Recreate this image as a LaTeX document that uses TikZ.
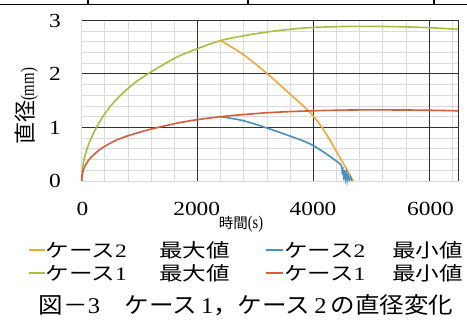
\documentclass[tikz,border=0pt]{standalone}
\usepackage{fontspec}
\setmainfont{Liberation Serif}
\newfontfamily\jp{Noto Sans CJK JP}
\newfontfamily\lat{Liberation Serif}
\definecolor{corange}{RGB}{242,166,58}
\definecolor{cblue}{RGB}{70,145,190}
\definecolor{cgreen}{RGB}{163,192,64}
\definecolor{cred}{RGB}{214,92,60}
\definecolor{cmajor}{RGB}{50,50,50}
\definecolor{cminor}{RGB}{218,218,218}
\tikzset{
  minorline/.style={draw=cminor, line width=0.8pt},
  majorline/.style={draw=cmajor, line width=0.9pt},
  curve/.style={line width=1.6pt, line join=round},
  ticklab/.style={inner sep=0pt, font=\rmfamily\fontsize{20}{20}\selectfont},
  legtext/.style={inner sep=0pt, anchor=west, font=\rmfamily\fontsize{19}{19}\selectfont},
  legdash/.style={line width=1.6pt},
}
\begin{document}
\begin{tikzpicture}[x=1pt,y=-1pt]
\useasboundingbox (0,0) rectangle (467,323);
\fill[white] (0,0) rectangle (467,323);
% table line at top
\draw[line width=1.2pt] (0,4.5) -- (467,4.5);
\draw[line width=1.2pt] (88,0) -- (88,4.5);
\draw[line width=1.2pt] (248,0) -- (248,4.5);
\draw[line width=1.2pt] (434,0) -- (434,4.5);
% plot area
\begin{scope}[shift={(81.7,181)}, x=0.0579pt, y=53.6pt]
  \foreach \t in {0,400,...,6400} \draw[minorline] (\t,0) -- (\t,3);
  \foreach \d in {0,0.2,0.4,0.6,0.8,1.2,1.4,1.6,1.8,2.2,2.4,2.6,2.8} \draw[minorline] (0,\d) -- (6500,\d);
  \foreach \t in {2000,4000,6000,6500} \draw[majorline] (\t,0) -- (\t,3);
  \foreach \d in {1,2,3} \draw[majorline] (0,\d) -- (6500,\d);
  % case 1 max (green)
  \draw[curve, cgreen] plot[smooth, tension=0.55] coordinates {(0,0) (10,0.198) (30,0.342) (60,0.484) (100,0.625) (160,0.79) (250,0.99) (360,1.19) (500,1.40) (700,1.63) (950,1.86) (1250,2.07) (1641,2.31) (2000,2.47) (2400,2.62) (2800,2.71) (3200,2.78) (3600,2.83) (4000,2.865) (4700,2.885) (5400,2.88) (6000,2.86) (6500,2.83)};
  % case 2 max (orange)
  \draw[curve, corange] plot[smooth, tension=0.5] coordinates {(2400,2.62) (2791,2.36) (3206,2.0) (3600,1.62) (3943,1.28) (4174,0.96) (4432,0.49) (4691,0.0)};
  % case 2 min (blue)
  \draw[curve, cblue] plot[smooth, tension=0.5] coordinates {(2400,1.20) (2791,1.125) (3223,0.98) (3772,0.77) (4000,0.66) (4231,0.5) (4450,0.33) (4490,0.28)};
  \draw[line width=1.3pt, cblue, line join=miter] (4490,0.28) -- (4500,0.12) -- (4510,0.26) -- (4525,0.02) -- (4540,0.2) -- (4555,0.03) -- (4570,0.16) -- (4585,0.0) -- (4600,0.12) -- (4620,0.02) -- (4640,0.08) -- (4660,0.0);
  % case 1 min (red)
  \draw[curve, cred] plot[smooth, tension=0.55] coordinates {(0,0) (10,0.12) (30,0.21) (60,0.285) (120,0.39) (200,0.48) (304,0.58) (450,0.68) (592,0.76) (760,0.83) (938,0.89) (1150,0.955) (1400,1.02) (1700,1.09) (2000,1.145) (2400,1.20) (2800,1.24) (3300,1.28) (4000,1.31) (4700,1.325) (5500,1.325) (6000,1.32) (6500,1.31)};
\end{scope}
% y tick labels
\node[ticklab] (y3) at (55,21) {\scalebox{1.17}[1]{3}};
\node[ticklab] (y2) at (55,74) {\scalebox{1.17}[1]{2}};
\node[ticklab] (y1) at (55,127.5) {\scalebox{1.17}[1]{1}};
\node[ticklab] (y0) at (55,180.5) {\scalebox{1.17}[1]{0}};
% x tick labels
\node[ticklab] (x0) at (82.5,208.5) {\scalebox{1.17}[1]{0}};
\node[ticklab] (x2) at (196.7,208.5) {\scalebox{1.17}[1]{2000}};
\node[ticklab] (x4) at (313,208.5) {\scalebox{1.17}[1]{4000}};
\node[ticklab] (x6) at (430.5,208.5) {\scalebox{1.17}[1]{6000}};
% axis titles
\node[inner sep=0pt] (xt) at (241,224) {{\jp\fontsize{14.5}{14.5}\selectfont 時間}{\lat\fontsize{18}{18}\selectfont\scalebox{0.8}[1]{(s)}}};
\node[inner sep=0pt, rotate=90] (yt) at (26.5,106.5) {{\jp\fontsize{22}{22}\selectfont 直径}{\lat\fontsize{19}{19}\selectfont\scalebox{0.78}[1]{(mm)}}};
% legend
\coordinate (d1a) at (29,250); \coordinate (d1b) at (45,250);
\draw[legdash, corange] (d1a) -- (d1b);
\node[legtext] (l1) at (45.5,250) {\scalebox{1.24}[1]{{\jp ケース}2}};
\node[legtext] (l1b) at (159,250) {\scalebox{1.24}[1]{\jp 最大値}};
\coordinate (d2a) at (266,250); \coordinate (d2b) at (283,250);
\draw[legdash, cblue] (d2a) -- (d2b);
\node[legtext] (l2) at (284,250) {\scalebox{1.24}[1]{{\jp ケース}2}};
\node[legtext] (l2b) at (392,250) {\scalebox{1.24}[1]{\jp 最小値}};
\coordinate (d3a) at (29,273); \coordinate (d3b) at (45,273);
\draw[legdash, cgreen] (d3a) -- (d3b);
\node[legtext] (l3) at (45.5,273) {\scalebox{1.24}[1]{{\jp ケース}1}};
\node[legtext] (l3b) at (159,273) {\scalebox{1.24}[1]{\jp 最大値}};
\coordinate (d4a) at (266,273); \coordinate (d4b) at (283,273);
\draw[legdash, cred] (d4a) -- (d4b);
\node[legtext] (l4) at (284,273) {\scalebox{1.24}[1]{{\jp ケース}1}};
\node[legtext] (l4b) at (392,273) {\scalebox{1.24}[1]{\jp 最小値}};
% caption
\node[inner sep=0pt] (cap) at (246,305) {\rmfamily\fontsize{22.5}{22.5}\selectfont\scalebox{1.09}[1]{{\jp 図－}3{\jp 　ケース}\,1{\jp ，ケース}\,2\,{\jp の直径変化}}};
\end{tikzpicture}
\end{document}
